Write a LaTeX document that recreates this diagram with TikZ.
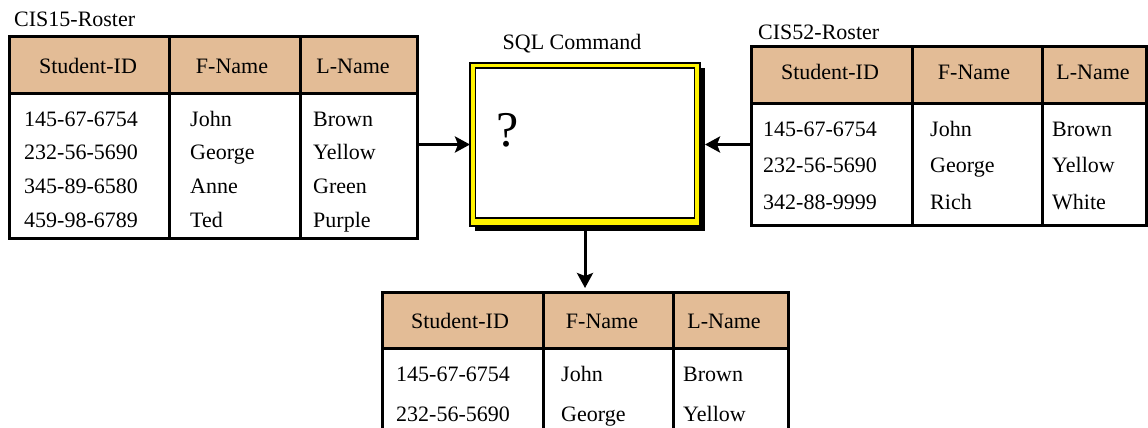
\documentclass[tikz,border=0pt]{standalone}
\usepackage{fontspec}
\IfFontExistsTF{Liberation Serif}{\setmainfont{Liberation Serif}\newfontfamily\tabfont{Liberation Serif}}{\setmainfont{DejaVu Serif}\newfontfamily\tabfont{DejaVu Serif}}
\usetikzlibrary{arrows.meta,shadows}
\definecolor{hdrtan}{RGB}{227,188,150}
\begin{document}
\begin{tikzpicture}[x=1pt,y=-1pt,
  txt/.style={font=\tabfont\fontsize{22}{26}\selectfont, inner sep=0pt, text height=15pt, text depth=5pt},
  cell/.style={txt, anchor=west},
  head/.style={txt, anchor=center},
  ttl/.style={txt, anchor=west},
  frame/.style={draw=black, line width=3pt, rectangle, anchor=north west, inner sep=0pt, outer sep=0pt},
  rule/.style={line width=3pt},
  arr/.style={line width=3pt, -{Stealth[length=15pt,width=16pt,inset=3pt]}},
  sqlouter/.style={draw=black, line width=1.8pt, fill=yellow, rectangle, inner sep=0pt, outer sep=0pt,
    drop shadow={shadow xshift=5pt, shadow yshift=-5pt, opacity=1, fill=black}},
  sqlinner/.style={draw=black, line width=1.5pt, fill=white, rectangle, inner sep=0pt, outer sep=0pt}
]
\useasboundingbox (0,0) rectangle (1148,428);
\clip (0,0) rectangle (1148,428);

% ---------- CIS15-Roster ----------
\node[ttl] (t1title) at (14,22) {CIS15-Roster};
\fill[hdrtan] (9,37) rectangle (417,93);
\node[frame, minimum width=408pt, minimum height=201pt] (t1) at (9,37) {};
\draw[rule] (9,93) -- (417,93);
\draw[rule] (169,37) -- (169,238);
\draw[rule] (300,37) -- (300,238);
\node[head] (t1h1) at (88,69) {Student-ID};
\node[head] (t1h2) at (232,69) {F-Name};
\node[head] (t1h3) at (353,69) {L-Name};
\node[cell] (t1a1) at (24,121) {145-67-6754};
\node[cell] (t1b1) at (190,121) {John};
\node[cell] (t1c1) at (313,121) {Brown};
\node[cell] (t1a2) at (24,154.5) {232-56-5690};
\node[cell] (t1b2) at (190,154.5) {George};
\node[cell] (t1c2) at (313,154.5) {Yellow};
\node[cell] (t1a3) at (24,188) {345-89-6580};
\node[cell] (t1b3) at (190,188) {Anne};
\node[cell] (t1c3) at (313,188) {Green};
\node[cell] (t1a4) at (24,222) {459-98-6789};
\node[cell] (t1b4) at (190,222) {Ted};
\node[cell] (t1c4) at (313,222) {Purple};

% ---------- CIS52-Roster ----------
\node[ttl] (t2title) at (758,35) {CIS52-Roster};
\fill[hdrtan] (751,47) rectangle (1146,103);
\node[frame, minimum width=395pt, minimum height=178pt] (t2) at (751,47) {};
\draw[rule] (751,103) -- (1146,103);
\draw[rule] (912,47) -- (912,225);
\draw[rule] (1042,47) -- (1042,225);
\node[head] (t2h1) at (830,74) {Student-ID};
\node[head] (t2h2) at (974,74) {F-Name};
\node[head] (t2h3) at (1093,74) {L-Name};
\node[cell] (t2a1) at (763,131) {145-67-6754};
\node[cell] (t2b1) at (930,131) {John};
\node[cell] (t2c1) at (1052,131) {Brown};
\node[cell] (t2a2) at (763,167.5) {232-56-5690};
\node[cell] (t2b2) at (930,167.5) {George};
\node[cell] (t2c2) at (1052,167.5) {Yellow};
\node[cell] (t2a3) at (763,204) {342-88-9999};
\node[cell] (t2b3) at (930,204) {Rich};
\node[cell] (t2c3) at (1052,204) {White};

% ---------- SQL Command ----------
\node[head] (sqltitle) at (572,45) {SQL Command};
\node[sqlouter, minimum width=230pt, minimum height=163pt] (sql) at (585,144.5) {};
\node[sqlinner, minimum width=219pt, minimum height=150pt] (sqlin) at (585,143) {};
\node[font=\tabfont\fontsize{50}{56}\selectfont, inner sep=0pt] (q) at (508,130) {?};

% ---------- Result ----------
\fill[hdrtan] (382,292) rectangle (788,348);
\node[frame, minimum width=406pt, minimum height=200pt] (t3) at (382,292) {};
\draw[rule] (382,348) -- (788,348);
\draw[rule] (543,292) -- (543,492);
\draw[rule] (673,292) -- (673,492);
\node[head] (t3h1) at (460,323) {Student-ID};
\node[head] (t3h2) at (602,323) {F-Name};
\node[head] (t3h3) at (724,323) {L-Name};
\node[cell] (t3a1) at (396,376) {145-67-6754};
\node[cell] (t3b1) at (561,376) {John};
\node[cell] (t3c1) at (683,376) {Brown};
\node[cell] (t3a2) at (396,416) {232-56-5690};
\node[cell] (t3b2) at (561,416) {George};
\node[cell] (t3c2) at (683,416) {Yellow};

% ---------- Connectors ----------
\draw[arr] (sql.west -| t1.east) -- (sql.west);
\draw[arr] (sql.east -| t2.west) -- ([xshift=5pt]sql.east);
\draw[arr] ([yshift=-4pt]sql.south) -- ([yshift=4pt]sql.south |- t3.north);
\end{tikzpicture}
\end{document}
